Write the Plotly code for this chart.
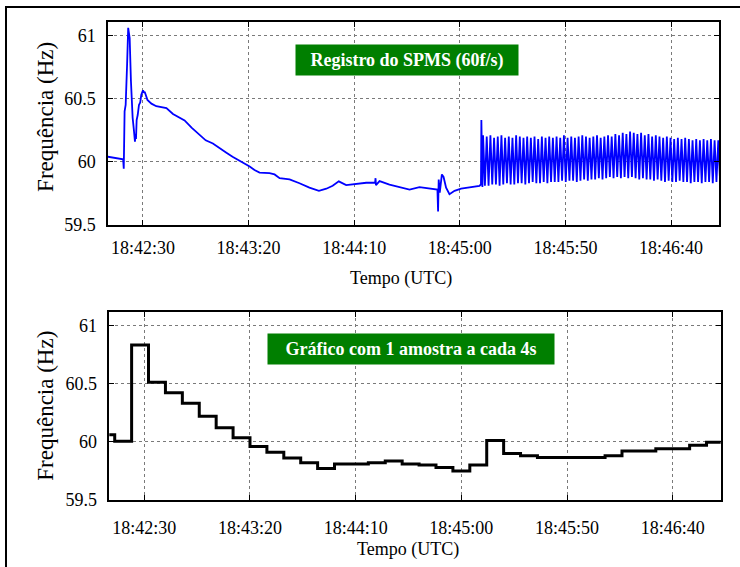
import pandas as pd
import plotly.graph_objects as go

T0 = pd.Timestamp("2012-01-01 18:42:30")

# SPMS record (60 frames/s): trace breakpoints, seconds from 18:42:30 and Hz
spms_t = [-16.7, -14.8, -12.9, -11.0, -9.4, -9.1, -8.9, -8.7, -8.2, -7.85, -7.5, -7.0,
          -6.6, -6.3, -5.7, -5.2, -4.9, -4.3, -3.8, -3.5, -3.3, -3.0, -2.5, -1.9, -1.3,
          -0.8, 0.0, 0.5, 0.9, 2.1, 4.0, 6.3, 7.9, 11.1, 14.2, 17.4, 19.7, 23.0, 26.8,
          29.7, 33.1, 36.3, 39.5, 42.4, 45.8, 50.5, 52.8, 55.2, 59.9, 62.3, 64.7, 69.4,
          74.1, 78.8, 83.3, 86.8, 89.8, 92.7, 96.2, 101.0, 105.7, 109.9, 110.1, 110.3,
          112.0, 116.7, 121.5, 126.2, 130.9, 135.6, 138.8, 139.4, 139.7, 140.0, 140.5,
          141.5, 142.3, 143.5, 145.1, 147.5, 150.6, 156.1, 159.3, 160.0, 160.2, 160.7]
spms_f = [60.04, 60.035, 60.03, 60.025, 60.02, 59.945, 60.10, 60.40, 60.45, 60.75, 60.78,
          61.06, 61.00, 60.98, 60.64, 60.40, 60.35, 60.25, 60.16, 60.22, 60.18, 60.33,
          60.37, 60.45, 60.47, 60.53, 60.565, 60.55, 60.55, 60.49, 60.46, 60.44, 60.435,
          60.425, 60.378, 60.35, 60.327, 60.27, 60.21, 60.17, 60.145, 60.105, 60.072,
          60.04, 60.01, 59.963, 59.935, 59.915, 59.91, 59.90, 59.87, 59.86, 59.83, 59.795,
          59.77, 59.787, 59.81, 59.845, 59.816, 59.826, 59.834, 59.835, 59.87, 59.815,
          59.847, 59.82, 59.80, 59.78, 59.80, 59.79, 59.787, 59.78, 59.606, 59.86, 59.756,
          59.90, 59.88, 59.795, 59.743, 59.77, 59.787, 59.80, 59.81, 59.82, 60.33, 59.80]

# Sustained oscillation after 18:45:10: successive crests and troughs (Hz)
osc_start = 161.0
osc_period = 1.74
osc_high = [60.21, 60.20, 60.21, 60.19, 60.20, 60.21, 60.19, 60.20, 60.19, 60.21,
            60.20, 60.19, 60.20, 60.19, 60.20, 60.18, 60.20, 60.19, 60.20, 60.19,
            60.20, 60.19, 60.21, 60.19, 60.20, 60.19, 60.20, 60.21, 60.20, 60.19,
            60.20, 60.21, 60.19, 60.20, 60.21, 60.20, 60.22, 60.21, 60.23, 60.22,
            60.24, 60.23, 60.22, 60.23, 60.21, 60.22, 60.20, 60.21, 60.20, 60.19,
            60.20, 60.19, 60.18, 60.19, 60.18, 60.19, 60.18, 60.17, 60.18, 60.17,
            60.18, 60.17, 60.18, 60.17, 60.17, 60.18]
osc_low = [59.81, 59.81, 59.82, 59.82, 59.81, 59.82, 59.83, 59.82, 59.82, 59.83,
           59.83, 59.82, 59.83, 59.84, 59.83, 59.83, 59.84, 59.83, 59.84, 59.84,
           59.84, 59.85, 59.84, 59.85, 59.85, 59.84, 59.85, 59.86, 59.85, 59.86,
           59.86, 59.87, 59.86, 59.87, 59.88, 59.87, 59.88, 59.87, 59.88, 59.87,
           59.88, 59.87, 59.86, 59.87, 59.86, 59.86, 59.85, 59.86, 59.85, 59.84,
           59.85, 59.84, 59.84, 59.85, 59.84, 59.84, 59.83, 59.84, 59.84, 59.83,
           59.84, 59.84, 59.83, 59.84, 59.84, 59.84]

# One sample every 4 s (held until the next sample)
sample_t = list(range(-18, 278, 4))
sample_f = [60.06, 60.005, 60.005, 60.83, 60.83, 60.51, 60.51, 60.42, 60.42, 60.33, 60.33,
            60.22, 60.22, 60.12, 60.12, 60.035, 60.035, 59.96, 59.96, 59.91, 59.91,
            59.86, 59.86, 59.82, 59.82, 59.77, 59.77, 59.81, 59.81, 59.81, 59.81,
            59.82, 59.82, 59.835, 59.835, 59.81, 59.81, 59.80, 59.80, 59.78, 59.78,
            59.75, 59.75, 59.80, 59.80, 60.01, 60.01, 59.90, 59.90, 59.88, 59.88,
            59.865, 59.865, 59.865, 59.865, 59.865, 59.865, 59.865, 59.865,
            59.88, 59.88, 59.92, 59.92, 59.92, 59.92, 59.94, 59.94, 59.94, 59.94,
            59.97, 59.97, 59.995, 59.995, 59.995]

tick_labels = ["18:42:30", "18:43:20", "18:44:10", "18:45:00", "18:45:50", "18:46:40"]
x_window = (-16.56, 272.7)
y_ticks = [59.5, 60, 60.5, 61]
y_tick_labels = ["59.5", "60", "60.5", "61"]


def stamp(seconds):
    return T0 + pd.to_timedelta(seconds, unit="s")


# assemble the full SPMS trace
rec_t = list(spms_t)
rec_f = list(spms_f)
for k, (hi, lo) in enumerate(zip(osc_high, osc_low)):
    rec_t += [osc_start + k * osc_period, osc_start + (k + 0.5) * osc_period]
    rec_f += [hi, lo]

SERIF = "Liberation Serif"
tick_vals = [T0 + pd.Timedelta(hours=int(s[:2]) - 18, minutes=int(s[3:5]) - 42,
                               seconds=int(s[6:]) - 30) for s in tick_labels]

fig = go.Figure()
fig.add_trace(go.Scatter(x=stamp(pd.Series(rec_t)), y=rec_f, mode="lines",
                         line=dict(color="#0000ff", width=1.8),
                         xaxis="x", yaxis="y", showlegend=False))
fig.add_trace(go.Scatter(x=stamp(pd.Series(sample_t)), y=sample_f, mode="lines",
                         line=dict(color="black", width=3, shape="hv"),
                         xaxis="x2", yaxis="y2", showlegend=False))

W, H = 740, 567


def px_x(p):
    return p / W


def px_y(p):
    return 1 - p / H


axis_common = dict(showline=True, linecolor="black", linewidth=1.5, mirror="ticks",
                   ticks="inside", ticklen=5, tickcolor="black", tickwidth=1,
                   showgrid=True, gridcolor="#7a7a7a", griddash="dot", gridwidth=1,
                   zeroline=False, tickfont=dict(family=SERIF, size=18, color="black"))

x_range = [stamp(x_window[0]), stamp(x_window[1])]

fig.update_layout(
    width=W, height=H,
    margin=dict(l=0, r=0, t=0, b=0),
    paper_bgcolor="white", plot_bgcolor="white",
    xaxis=dict(axis_common, domain=[px_x(108), px_x(719)], anchor="y",
               type="date", range=x_range, tickvals=tick_vals, ticktext=tick_labels,
               ticklabelstandoff=6),
    yaxis=dict(axis_common, domain=[px_y(229), px_y(22.7)], anchor="x",
               range=[59.5, 61.104], tickvals=y_ticks, ticktext=y_tick_labels,
               ticklabelstandoff=7),
    xaxis2=dict(axis_common, domain=[px_x(109.3), px_x(720.7)], anchor="y2",
                type="date", range=x_range, tickvals=tick_vals, ticktext=tick_labels,
                ticklabelstandoff=11),
    yaxis2=dict(axis_common, domain=[px_y(509), px_y(317.7)], anchor="x2",
                range=[59.5, 61.113], tickvals=y_ticks, ticktext=y_tick_labels,
                ticklabelstandoff=7),
    showlegend=False,
)

annotations = [
    # axis titles
    dict(text="Frequência (Hz)", x=px_x(46), y=px_y(119), textangle=-90,
         font=dict(family=SERIF, size=23, color="black")),
    dict(text="Frequência (Hz)", x=px_x(46), y=px_y(413), textangle=-90,
         font=dict(family=SERIF, size=23, color="black")),
    dict(text="Tempo (UTC)", x=px_x(401), y=px_y(284),
         font=dict(family=SERIF, size=18, color="black")),
    dict(text="Tempo (UTC)", x=px_x(408), y=px_y(559),
         font=dict(family=SERIF, size=18, color="black")),
    # labels in green boxes
    dict(text="<b>Registro do SPMS (60f/s)</b>", x=px_x(406.8), y=px_y(60.9),
         width=222, height=30, bgcolor="#007f00", borderpad=0,
         font=dict(family=SERIF, size=18, color="white")),
    dict(text="<b>Gráfico com 1 amostra a cada 4s</b>", x=px_x(411.3), y=px_y(355.7),
         width=286, height=30, bgcolor="#007f00", borderpad=0,
         font=dict(family=SERIF, size=18, color="white")),
]
for a in annotations:
    a.update(xref="paper", yref="paper", showarrow=False, xanchor="center", yanchor="middle")
fig.update_layout(annotations=annotations)

# outer frame around the whole figure
fig.add_shape(type="rect", xref="paper", yref="paper",
              x0=px_x(6), x1=1.2, y0=-0.2, y1=px_y(7),
              line=dict(color="black", width=2), fillcolor="rgba(0,0,0,0)")

fig.write_html("out.html")
